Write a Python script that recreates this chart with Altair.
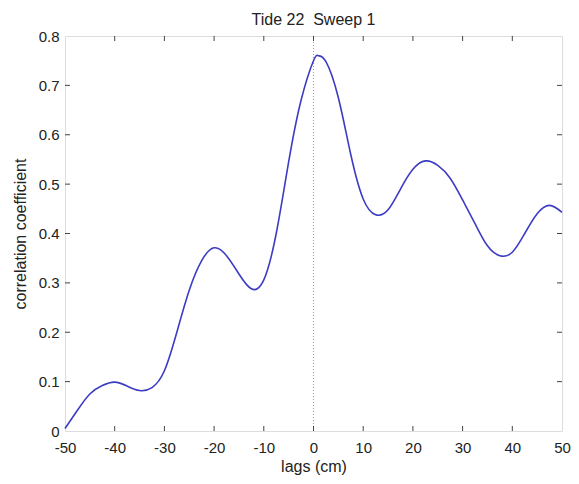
import altair as alt
import pandas as pd

lags = [-50, -47.5, -45, -42.5, -40, -37.5, -35, -32.5, -30, -27.5, -25, -22.5, -20,
        -17.5, -15, -12.5, -10, -7.5, -5, -2.5, 0, 1, 2.5, 5, 7.5, 10, 12.5, 15,
        17.5, 20, 22.5, 25, 27.5, 30, 32.5, 35, 37.5, 40, 42.5, 45, 47.5, 50]
corr = [0.005, 0.042, 0.075, 0.092, 0.099, 0.091, 0.082, 0.088, 0.122, 0.200, 0.285,
        0.345, 0.371, 0.355, 0.318, 0.288, 0.306, 0.400, 0.545, 0.670, 0.750, 0.760,
        0.748, 0.675, 0.560, 0.470, 0.438, 0.448, 0.490, 0.530, 0.547, 0.538, 0.512,
        0.468, 0.420, 0.375, 0.355, 0.362, 0.400, 0.440, 0.457, 0.443]

x_ticks = [-50, -40, -30, -20, -10, 0, 10, 20, 30, 40, 50]
y_ticks = [0, 0.1, 0.2, 0.3, 0.4, 0.5, 0.6, 0.7, 0.8]
zero_lag = [0]

W, H = 497, 395
TICK = 5

df = pd.DataFrame({"lag": lags, "corr": corr})
xt = pd.DataFrame({"t": x_ticks[1:-1]})
yt = pd.DataFrame({"t": y_ticks[1:-1]})
z = pd.DataFrame({"t": zero_lag})

xscale = alt.Scale(domain=[-50, 50], nice=False, zero=False)
yscale = alt.Scale(domain=[0, 0.8], nice=False, zero=False)

common = dict(ticks=False, domain=False, grid=False, labelFlush=False, labelOverlap=False,
              labelFontSize=15, titleFontSize=16, labelColor="#222", titleColor="#222",
              titleFontWeight="normal", labelFont="Liberation Sans", titleFont="Liberation Sans")
x_axis = alt.Axis(values=x_ticks, labelExpr="toString(datum.value)",
                  labelPadding=9, titlePadding=3, **common)
y_axis = alt.Axis(values=y_ticks,
                  labelExpr="datum.value == 0 ? '0' : format(datum.value, '.1f')",
                  labelPadding=6, titlePadding=10, **common)

zero_line = alt.Chart(z).mark_rule(color="#999", strokeDash=[1, 2], strokeWidth=1).encode(
    x=alt.X("t:Q", scale=xscale, axis=x_axis, title="lags (cm)")
)

line = alt.Chart(df).mark_line(color="#3c3cc4", strokeWidth=1.6, interpolate="natural").encode(
    x=alt.X("lag:Q", scale=xscale, axis=x_axis, title="lags (cm)"),
    y=alt.Y("corr:Q", scale=yscale, axis=y_axis, title="correlation coefficient"),
)

tick_style = dict(color="#444", strokeWidth=1)
bottom_ticks = alt.Chart(xt).mark_rule(**tick_style).encode(
    x=alt.X("t:Q", scale=xscale), y=alt.value(H), y2=alt.value(H - TICK))
top_ticks = alt.Chart(xt).mark_rule(**tick_style).encode(
    x=alt.X("t:Q", scale=xscale), y=alt.value(0), y2=alt.value(TICK))
left_ticks = alt.Chart(yt).mark_rule(**tick_style).encode(
    y=alt.Y("t:Q", scale=yscale), x=alt.value(0), x2=alt.value(TICK))
right_ticks = alt.Chart(yt).mark_rule(**tick_style).encode(
    y=alt.Y("t:Q", scale=yscale), x=alt.value(W), x2=alt.value(W - TICK))

chart = alt.layer(zero_line, line, bottom_ticks, top_ticks, left_ticks, right_ticks).properties(
    width=W, height=H,
    title=alt.TitleParams("Tide 22\u00a0 Sweep 1", fontSize=16, fontWeight="normal",
                          font="Liberation Sans", color="#222", anchor="middle", offset=1),
    autosize=alt.AutoSizeParams(type="none"),
    padding={"left": 57, "top": 28, "right": 9, "bottom": 44},
).configure_view(stroke="#444", strokeWidth=1).configure(background="white")

chart.save("out.html", embed_options={"renderer": "svg", "actions": False})
